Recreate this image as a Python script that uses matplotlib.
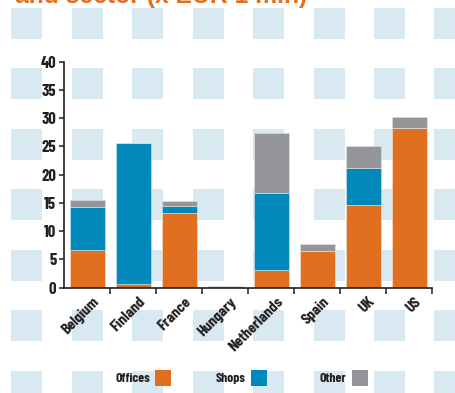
import matplotlib
matplotlib.use("Agg")
import matplotlib.pyplot as plt
from matplotlib.patches import Rectangle
import numpy as np

countries = ["Belgium", "Finland", "France", "Hungary", "Netherlands", "Spain", "UK", "US"]
offices = [6.6, 0.6, 13.2, 0.3, 3.2, 6.5, 14.6, 28.3]
shops = [7.7, 25.0, 1.2, 0.0, 13.5, 0.0, 6.6, 0.0]
other = [1.3, 0.0, 0.9, 0.0, 10.6, 1.2, 3.9, 1.9]
yticks = [0, 5, 10, 15, 20, 25, 30, 35, 40]
legend_labels = ["Offices", "Shops", "Other"]

ORANGE = "#E0701F"
BLUE = "#0089BA"
GREY = "#939598"
TILE = "#D9E9F2"
INK = "#231F20"

plt.rcParams["font.family"] = ["Barlow Condensed", "DejaVu Sans"]

W, H = 456, 393
fig = plt.figure(figsize=(W / 100, H / 100), dpi=100)

# tiled background squares (pixel layout, top-left origin)
tile_x = [11, 72, 132, 193, 253, 314, 374, 434]
tile_y = [8, 68, 129, 189, 250, 310, 371]
for ty in tile_y:
    for tx in tile_x:
        fig.add_artist(Rectangle((tx / W, 1 - (ty + 31) / H), 31 / W, 31 / H,
                                 transform=fig.transFigure, facecolor=TILE,
                                 edgecolor="none", zorder=0))

# title running off the top edge
fig.text(15 / W, 1 - 3.0 / H, "and sector (x EUR 1 mln)", color=ORANGE,
         fontsize=17.8, fontweight="bold", family=["Liberation Sans", "DejaVu Sans"],
         ha="left", va="baseline")

ax = fig.add_axes([64 / W, 1 - 287.7 / H, (432.5 - 64) / W, (287.7 - 61.7) / H])
ax.patch.set_visible(False)
ax.set_zorder(2)

x = np.arange(len(countries))
bw = 0.76
off = np.array(offices)
sh = np.array(shops)
ot = np.array(other)
ax.bar(x, off, bw, color=ORANGE, edgecolor="#F2E6DC", linewidth=0.4)
ax.bar(x, sh, bw, bottom=off, color=BLUE, edgecolor="#D0E6EF", linewidth=0.4)
ax.bar(x, ot, bw, bottom=off + sh, color=GREY, edgecolor="#E4E4E4", linewidth=0.4)

ax.set_xlim(-0.5, len(countries) - 0.5)
ax.set_ylim(0, 40)
ax.set_yticks(yticks)
ax.set_yticklabels([str(v) for v in yticks], fontsize=12, fontweight="bold", color=INK)

ax.set_xticks(x + 0.1)
ax.set_xticklabels(countries, rotation=45, ha="right", va="top",
                   rotation_mode="anchor", fontsize=11.5, fontweight="bold", color=INK)
ax.tick_params(axis="x", which="major", length=0, pad=5)
ax.set_xticks(np.arange(0.5, len(countries), 1.0), minor=True)
ax.tick_params(axis="x", which="minor", length=4, width=1.1, color=INK, direction="out")
ax.tick_params(axis="y", length=3.5, width=1.1, color=INK, pad=2)

for s in ["top", "right"]:
    ax.spines[s].set_visible(False)
for s in ["left", "bottom"]:
    ax.spines[s].set_color(INK)
    ax.spines[s].set_linewidth(1.2)

# legend row at the bottom
leg_items = [(116, 155, ORANGE), (216, 251, BLUE), (320, 352, GREY)]
for lab, (tx, sx, col) in zip(legend_labels, leg_items):
    fig.text(tx / W, 1 - 378.5 / H, lab, fontsize=9.8, fontweight="bold", color=INK,
             ha="left", va="center")
    fig.add_artist(Rectangle((sx / W, 1 - 386 / H), 16 / W, 16 / H,
                             transform=fig.transFigure, facecolor=col,
                             edgecolor="none", zorder=3))

fig.savefig("out.png", dpi=100)
